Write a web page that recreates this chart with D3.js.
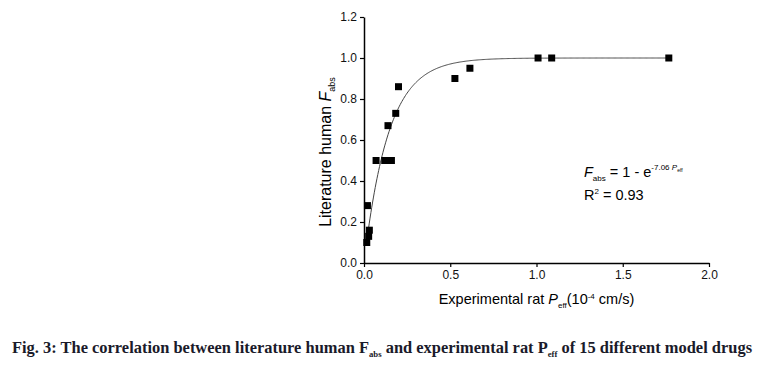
<!DOCTYPE html>
<html>
<head>
<meta charset="utf-8">
<script src="https://cdn.jsdelivr.net/npm/d3@7"></script>
<style>
  body { margin: 0; background: #fff; }
  svg text { font-family: "Liberation Sans", Arial, sans-serif; }
</style>
</head>
<body>
<div id="chart"></div>
<script>
var width = 772
var height = 368

// rat Peff (10^-4 cm/s) and human Fabs for the 15 drugs
var peff = [0.016, 0.027, 0.031, 0.020, 0.070, 0.120, 0.159, 0.139, 0.184, 0.200, 0.527, 0.614, 1.009, 1.088, 1.767]
var fabs = [0.10, 0.13, 0.16, 0.28, 0.50, 0.50, 0.50, 0.67, 0.73, 0.86, 0.90, 0.95, 1.00, 1.00, 1.00]
var xTicks = [0, 0.5, 1.0, 1.5, 2.0]
var yTicks = [0, 0.2, 0.4, 0.6, 0.8, 1.0, 1.2]
var k = 7.06

var margin = { left: 364, top: 17, right: 772 - 709, bottom: 368 - 263 }

var svg = d3.select("#chart").append("svg")
    .attr("width", width)
    .attr("height", height)

var x = d3.scaleLinear().domain([0, 2]).range([margin.left, width - margin.right])
var y = d3.scaleLinear().domain([0, 1.2]).range([height - margin.bottom, margin.top])

svg.append("g")
    .attr("transform", "translate(0," + y(0) + ")")
    .call(d3.axisBottom(x).tickValues(xTicks).tickFormat(d3.format(".1f")).tickSizeInner(4).tickSizeOuter(0).tickPadding(3))

svg.append("g")
    .attr("transform", "translate(" + x(0) + ",0)")
    .call(d3.axisLeft(y).tickValues(yTicks).tickFormat(d3.format(".1f")).tickSizeInner(4).tickSizeOuter(0).tickPadding(3))

svg.selectAll(".domain").attr("stroke", "#000").attr("stroke-width", 1.5)
svg.selectAll(".tick line").attr("stroke", "#000").attr("stroke-width", 1.2)
svg.selectAll(".tick text").attr("font-size", 12).attr("fill", "#111")

// fitted curve Fabs = 1 - exp(-k Peff)
var curveX = d3.range(0.02, 1.7671, 0.005)
var line = d3.line()
    .x(function(d) { return x(d); })
    .y(function(d) { return y(1 - Math.exp(-k * d)); })
svg.append("path")
    .datum(curveX)
    .attr("d", line)
    .attr("fill", "none")
    .attr("stroke", "#444")
    .attr("stroke-width", 1)

var s = 7
svg.append("g").selectAll("rect")
    .data(peff)
    .enter().append("rect")
    .attr("x", function(d) { return x(d) - s / 2; })
    .attr("y", function(d, i) { return y(fabs[i]) - s / 2; })
    .attr("width", s)
    .attr("height", s)
    .attr("fill", "#000")

// axis titles
var xt = svg.append("text")
    .attr("x", (x(0) + x(2)) / 2)
    .attr("y", 304)
    .attr("text-anchor", "middle")
    .attr("font-size", 14.5)
xt.append("tspan").text("Experimental rat ")
xt.append("tspan").attr("font-style", "italic").text("P")
xt.append("tspan").attr("font-size", 8).attr("dy", 4).text("eff")
xt.append("tspan").attr("dy", -4).text("(10")
xt.append("tspan").attr("font-size", 8).attr("dy", -5).text("-4")
xt.append("tspan").attr("dy", 5).text(" cm/s)")

var yt = svg.append("text")
    .attr("transform", "translate(331,152) rotate(-90)")
    .attr("text-anchor", "middle")
    .attr("font-size", 16)
yt.append("tspan").text("Literature human ")
yt.append("tspan").attr("font-style", "italic").text("F")
yt.append("tspan").attr("font-size", 9).attr("dy", 4).text("abs")

// equation
var eq = svg.append("text")
    .attr("x", 584)
    .attr("y", 177)
    .attr("font-size", 14.5)
eq.append("tspan").attr("font-style", "italic").text("F")
eq.append("tspan").attr("font-size", 8).attr("dy", 4).text("abs")
eq.append("tspan").attr("dy", -4).text(" = 1 - e")
eq.append("tspan").attr("font-size", 8).attr("dy", -7).text("-7.06 ")
eq.append("tspan").attr("font-size", 8).attr("font-style", "italic").text("P")
eq.append("tspan").attr("font-size", 5).attr("dy", 2).text("eff")

var r2 = svg.append("text")
    .attr("x", 584)
    .attr("y", 200)
    .attr("font-size", 14.5)
r2.append("tspan").text("R")
r2.append("tspan").attr("font-size", 8).attr("dy", -6).text("2")
r2.append("tspan").attr("dy", 6).text(" = 0.93")

// caption
var cap = svg.append("text")
    .attr("transform", "translate(12,352.5) scale(0.967,1)")
    .attr("font-size", 17)
    .attr("font-weight", "bold")
    .attr("fill", "#1a1a2a")
    .style("font-family", "'Liberation Serif', 'Times New Roman', serif")
cap.append("tspan").text("Fig. 3: The correlation between literature human F")
cap.append("tspan").attr("font-size", 9).attr("dy", 4).text("abs")
cap.append("tspan").attr("dy", -4).text(" and experimental rat P")
cap.append("tspan").attr("font-size", 9).attr("dy", 4).text("eff")
cap.append("tspan").attr("dy", -4).text(" of 15 different model drugs")
</script>
</body>
</html>
